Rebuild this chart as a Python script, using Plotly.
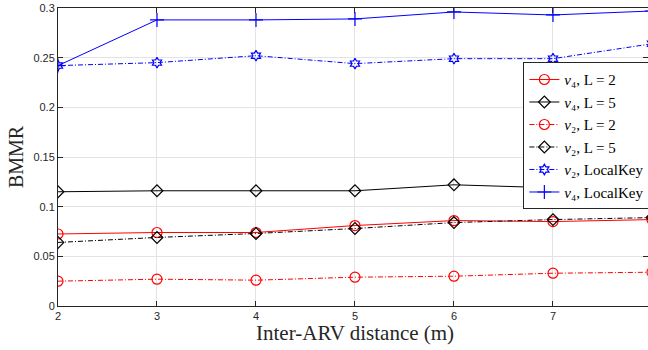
import plotly.graph_objects as go

distance = [2, 3, 4, 5, 6, 7, 8]

v4_L2 = [0.0725, 0.074, 0.074, 0.081, 0.086, 0.085, 0.087]
v4_L5 = [0.115, 0.116, 0.116, 0.116, 0.122, 0.119, 0.124]
v2_L2 = [0.025, 0.027, 0.026, 0.029, 0.030, 0.033, 0.034]
v2_L5 = [0.064, 0.069, 0.073, 0.078, 0.084, 0.087, 0.089]
v2_LK = [0.242, 0.245, 0.252, 0.244, 0.249, 0.249, 0.264]
v4_LK = [0.242, 0.288, 0.288, 0.289, 0.296, 0.293, 0.297]

x_ticks = [2, 3, 4, 5, 6, 7]
y_ticks = [0, 0.05, 0.1, 0.15, 0.2, 0.25, 0.3]
y_tick_text = ["0", "0.05", "0.1", "0.15", "0.2", "0.25", "0.3"]

DASHDOT = "5px,2px,1px,2px"

series = [
    ("<i>v</i>₄, L = 2", v4_L2, "#ff0000", "solid", "circle-open", 10),
    ("<i>v</i>₄, L = 5", v4_L5, "#000000", "solid", "diamond-open", 9),
    ("<i>v</i>₂, L = 2", v2_L2, "#ff0000", DASHDOT, "circle-open", 10),
    ("<i>v</i>₂, L = 5", v2_L5, "#000000", DASHDOT, "diamond-open", 9),
    ("<i>v</i>₂, LocalKey", v2_LK, "#0000ff", DASHDOT, "hexagram-open", 8),
    ("<i>v</i>₄, LocalKey", v4_LK, "#0000ff", "solid", "cross-thin-open", 10),
]

SERIF = "Liberation Serif, Times New Roman, serif"

fig = go.Figure()
for name, ys, color, dash, symbol, size in series:
    fig.add_trace(go.Scatter(
        x=distance, y=ys, name=name, mode="lines+markers",
        line=dict(color=color, width=1, dash=dash),
        marker=dict(symbol=symbol, size=size, color=color,
                    line=dict(color=color, width=1.2)),
        cliponaxis=True,
    ))

axis_common = dict(
    showline=True, linecolor="#262626", linewidth=1, mirror="ticks",
    ticks="inside", ticklen=5, tickcolor="#262626",
    showgrid=True, gridcolor="#e3e3e3", gridwidth=1,
    zeroline=False,
    tickfont=dict(family="Liberation Sans, Arial, sans-serif", size=11, color="#262626"),
)

fig.update_xaxes(range=[2, 7.96], tickvals=x_ticks, **axis_common)
fig.update_yaxes(
    range=[0, 0.3], tickvals=y_ticks, ticktext=y_tick_text,
    title=dict(text="BMMR", standoff=4,
               font=dict(family=SERIF, size=20, color="#262626")),
    **axis_common,
)

fig.add_annotation(
    text="Inter-ARV distance (m)", xref="paper", yref="paper",
    x=0.503, y=-0.045, xanchor="center", yanchor="top", showarrow=False,
    font=dict(family=SERIF, size=21, color="#262626"),
)

fig.update_layout(
    width=648, height=350,
    margin=dict(l=58, r=0, t=8, b=44, autoexpand=False),
    plot_bgcolor="white", paper_bgcolor="white",
    showlegend=True,
    legend=dict(
        x=1.004, y=0.818, xanchor="right", yanchor="top",
        bgcolor="white", bordercolor="#262626", borderwidth=1,
        font=dict(family=SERIF, size=15, color="#000000"),
        itemwidth=30, tracegroupgap=0,
    ),
)

fig.write_html("out.html", config={"displayModeBar": False},
               post_script="document.body.style.margin='0';")
